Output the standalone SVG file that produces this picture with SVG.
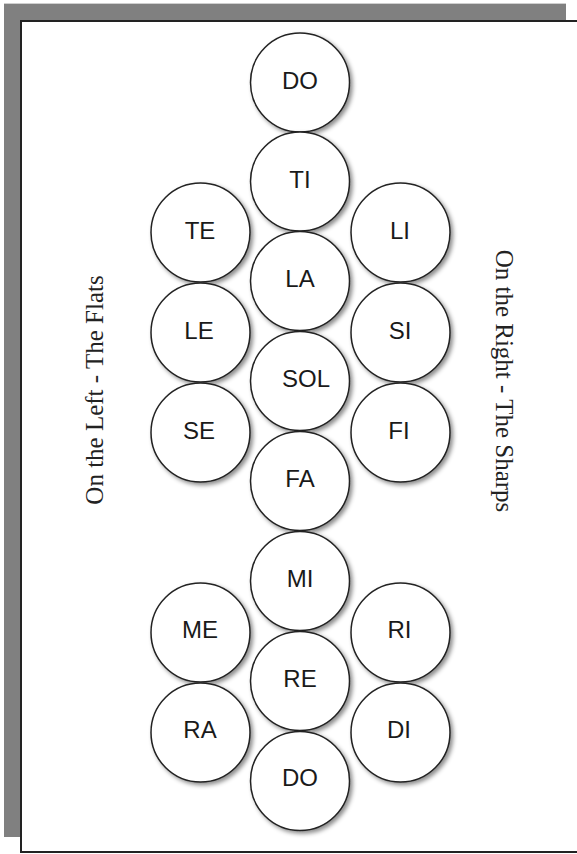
<svg xmlns="http://www.w3.org/2000/svg" width="577" height="854" viewBox="0 0 577 854">
<style>
.n circle{fill:#fff;stroke:#222;stroke-width:1.5;filter:url(#sh)}
.n text{font-family:"Liberation Sans",Arial,sans-serif;font-size:24px;fill:#1a1a1a;text-anchor:middle}
.side{font-family:"Liberation Serif","Times New Roman",serif;font-size:25px;fill:#222;text-anchor:middle}
</style>
<defs>
<filter id="sh" x="-20%" y="-20%" width="150%" height="150%">
<feDropShadow dx="2.5" dy="2.5" stdDeviation="2" flood-color="#000" flood-opacity="0.45"/>
</filter>
</defs>
<rect x="4" y="3" width="562" height="834" fill="#808080"/>
<rect x="4" y="3" width="562" height="1" fill="#cfcfcf"/>
<rect x="21" y="21" width="600" height="831" fill="#fff" stroke="#222" stroke-width="2"/>
<g id="connectors"></g>
<g id="do-top" class="n"><circle cx="300" cy="82.5" r="49.5"/><text x="300" y="88.5">DO</text></g>
<g id="ti" class="n"><circle cx="300" cy="181.5" r="49.5"/><text x="300" y="187.5">TI</text></g>
<g id="la" class="n"><circle cx="300" cy="281" r="49.5"/><text x="300" y="287">LA</text></g>
<g id="sol" class="n"><circle cx="300" cy="381" r="49.5"/><text x="282" y="387" style="text-anchor:start">SOL</text></g>
<g id="fa" class="n"><circle cx="300" cy="481" r="49.5"/><text x="300" y="487">FA</text></g>
<g id="mi" class="n"><circle cx="300" cy="581" r="49.5"/><text x="300" y="587">MI</text></g>
<g id="re" class="n"><circle cx="300" cy="681" r="49.5"/><text x="300" y="687">RE</text></g>
<g id="do-bottom" class="n"><circle cx="300" cy="781" r="49.5"/><text x="300" y="786">DO</text></g>
<g id="te" class="n"><circle cx="200.5" cy="232.5" r="49.5"/><text x="200" y="238.5">TE</text></g>
<g id="le" class="n"><circle cx="200.5" cy="332.5" r="49.5"/><text x="199" y="338.5">LE</text></g>
<g id="se" class="n"><circle cx="200.5" cy="432.5" r="49.5"/><text x="199" y="438.5">SE</text></g>
<g id="li" class="n"><circle cx="400.5" cy="232.5" r="49.5"/><text x="400" y="238.5">LI</text></g>
<g id="si" class="n"><circle cx="400.5" cy="332.5" r="49.5"/><text x="400" y="338.5">SI</text></g>
<g id="fi" class="n"><circle cx="400.5" cy="432.5" r="49.5"/><text x="399" y="438.5">FI</text></g>
<g id="me" class="n"><circle cx="200.5" cy="632.5" r="49.5"/><text x="200" y="638">ME</text></g>
<g id="ra" class="n"><circle cx="200.5" cy="732.5" r="49.5"/><text x="200" y="737.5">RA</text></g>
<g id="ri" class="n"><circle cx="400.5" cy="632.5" r="49.5"/><text x="399.5" y="638">RI</text></g>
<g id="di" class="n"><circle cx="400.5" cy="732.5" r="49.5"/><text x="399" y="737.5">DI</text></g>
<text class="side" transform="translate(103,390) rotate(-90)">On the Left - The Flats</text>
<text class="side" transform="translate(496,381) rotate(90)">On the Right - The Sharps</text>
</svg>
